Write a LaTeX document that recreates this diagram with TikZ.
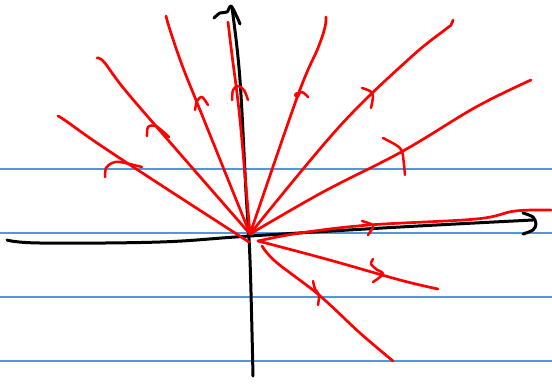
\documentclass[tikz,border=0pt]{standalone}
\definecolor{ruleblue}{RGB}{80,150,225}
\begin{document}
\begin{tikzpicture}[x=1pt,y=-1pt,
  ruled/.style={draw=ruleblue,line width=1.1pt},
  axisline/.style={draw=black,line width=3pt,line cap=round,line join=round},
  ray/.style={draw=red,line width=2.7pt,line cap=round,line join=round},
  tick/.style={draw=red,line width=2.5pt,line cap=round,line join=round}]
\useasboundingbox (0,0) rectangle (552,384);
% ruled paper lines
\foreach \yy in {169,233,297,361} \draw[ruled] (0,\yy) -- (552,\yy);
% axes
\draw[axisline] plot[smooth,tension=0.6] coordinates {(7,240) (40,243) (160,242) (250,236) (400,227) (533,220)};
\draw[axisline] plot[smooth,tension=0.5] coordinates {(523,213) (533,217) (536,224) (533,230) (523,234)};
\draw[axisline] plot[smooth,tension=0.6] coordinates {(253,376) (250,260) (246,192) (240,80) (233,15) (231,7)};
\draw[axisline] plot[smooth,tension=0.5] coordinates {(214,18) (220,13) (227,12) (231,6) (237,17) (240,24)};
% red rays
\draw[ray] plot[smooth,tension=0.6] coordinates {(249,242) (167,189) (100,145) (66,121) (58,116)};
\draw[ray] plot[smooth,tension=0.6] coordinates {(250,234) (175,148) (125,90) (104,62) (97,58)};
\draw[ray] plot[smooth,tension=0.6] coordinates {(250,234) (200,110) (182,65) (170,30) (166,16)};
\draw[ray] plot[smooth,tension=0.6] coordinates {(250,234) (240,120) (232,55) (228,22)};
\draw[ray] plot[smooth,tension=0.6] coordinates {(250,234) (298,95) (318,48) (325,27) (326,17)};
\draw[ray] plot[smooth,tension=0.6] coordinates {(250,234) (339,127) (410,58) (446,29) (451,25) (453,20)};
\draw[ray] plot[smooth,tension=0.6] coordinates {(250,234) (323,192) (403,151) (476,107) (531,80)};
\draw[ray] plot[smooth,tension=0.6] coordinates {(258,241) (300,233) (369,225) (476,219) (515,211) (551,210)};
\draw[ray] plot[smooth,tension=0.6] coordinates {(258,241) (326,259) (400,280) (438,289)};
\draw[ray] plot[smooth,tension=0.6] coordinates {(262,246) (276,262) (319,295) (360,333) (393,361)};
% hand-drawn arrowheads
\draw[tick] plot[smooth,tension=0.5] coordinates {(105,177) (106,168) (112,163) (120,162) (142,167)};
\draw[tick] plot[smooth,tension=0.5] coordinates {(147,136) (148,127) (156,126) (169,137)};
\draw[tick] plot[smooth,tension=0.5] coordinates {(195,110) (197,101) (202,97) (208,105)};
\draw[tick] plot[smooth,tension=0.5] coordinates {(232,100) (233,90) (238,86) (244,90) (248,100)};
\fill[red] (297,95) circle (3);
\draw[tick] plot[smooth,tension=0.5] coordinates {(297,96) (302,92) (308,97)};
\draw[tick] plot[smooth,tension=0.5] coordinates {(362,88) (370,91) (373,96) (371,108)};
\draw[tick] plot[smooth,tension=0.5] coordinates {(383,138) (396,145) (402,151) (404,165) (405,175)};
\draw[tick] plot[smooth,tension=0.5] coordinates {(362,221) (371,224) (373,227) (368,235)};
\draw[tick] plot[smooth,tension=0.5] coordinates {(373,259) (371,264) (376,269) (383,274) (373,282)};
\draw[tick] plot[smooth,tension=0.5] coordinates {(313,281) (315,289) (319,295) (318,305)};
\end{tikzpicture}
\end{document}
